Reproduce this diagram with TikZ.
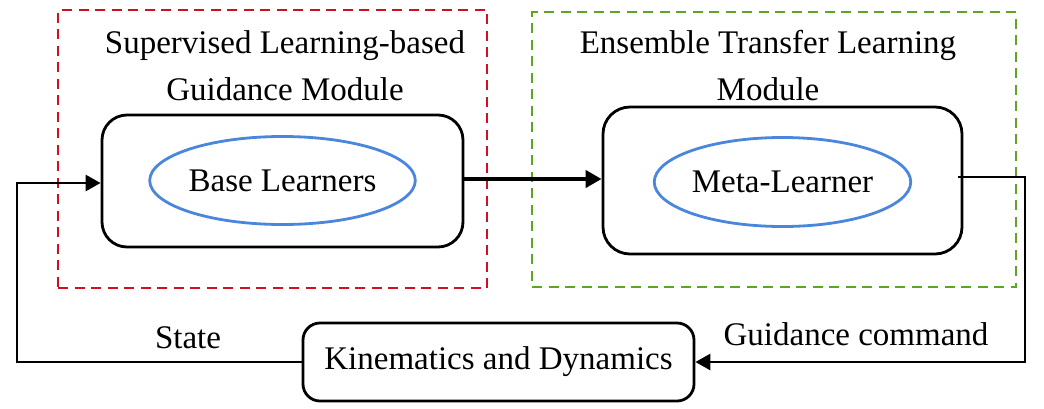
\documentclass[tikz,border=0pt]{standalone}
\usepackage{fontspec}
\setmainfont{Liberation Serif}
\usetikzlibrary{arrows.meta}
\definecolor{boxred}{RGB}{208,16,32}
\definecolor{boxgreen}{RGB}{96,164,36}
\definecolor{ellblue}{RGB}{74,134,219}
\tikzset{
  modbox/.style={draw, dashed, line width=2.8pt, dash pattern=on 10pt off 6.5pt, inner sep=0pt, minimum width=#1},
  learnbox/.style={draw=black, line width=2.8pt, rounded corners=25pt, inner sep=0pt},
  learnell/.style={draw=ellblue, ellipse, line width=2.8pt, inner sep=0pt},
  titletext/.style={align=center, inner sep=0pt, anchor=north, font=\fontsize{33}{47}\selectfont},
  conn/.style={line width=2.8pt, -{Triangle[length=15pt,width=16pt]}},
  lbl/.style={inner sep=0pt, font=\fontsize{33}{40}\selectfont, anchor=base},
}
\usetikzlibrary{shapes.geometric}
\begin{document}
\begin{tikzpicture}[x=1pt,y=-1pt]
\useasboundingbox (0,0) rectangle (1044,408);
% module frames
\node[modbox=429pt, draw=boxred, minimum height=278pt] (redbox) at (272.5,149) {};
\node[modbox=484pt, draw=boxgreen, minimum height=275pt] (greenbox) at (774,149.5) {};
% titles
\node[titletext] (t1) at (285,30.5) {Supervised Learning-based\\Guidance Module};
\node[titletext] (t2) at (768,30.5) {Ensemble Transfer Learning\\Module};
% learner boxes
\node[learnbox, minimum width=361pt, minimum height=132pt] (lb) at (282.5,181) {};
\node[learnbox, rounded corners=27pt, minimum width=359pt, minimum height=147pt] (rb) at (782.5,180.5) {};
\node[learnell, minimum width=257pt, minimum height=88pt, font=\fontsize{33}{40}\selectfont] (le) at (282.5,180.5) {Base Learners};
\node[learnell, minimum width=253pt, minimum height=89pt, font=\fontsize{33}{40}\selectfont] (re) at (782.5,182) {Meta-Learner};
% plant
\node[learnbox, rounded corners=17pt, minimum width=391pt, minimum height=78pt, font=\fontsize{33}{40}\selectfont] (kd) at (498.5,362) {Kinematics and Dynamics};
% labels
\node[lbl] (st) at (188,348) {State};
\node[lbl] (gc) at (856,345) {Guidance command};
% connectors
\draw[conn, line width=4.5pt, -{Triangle[length=16pt,width=17pt]}] (lb.east |- 0,179) -- (rb.west |- 0,179);
\coordinate (outr) at (1025,177);
\coordinate (feedl) at (17,183);
\draw[conn] ([xshift=-5pt]rb.east |- outr) -- (outr) |- (kd.east);
\draw[conn] (kd.west) -| (feedl) -- (lb.west |- feedl);
\end{tikzpicture}
\end{document}
